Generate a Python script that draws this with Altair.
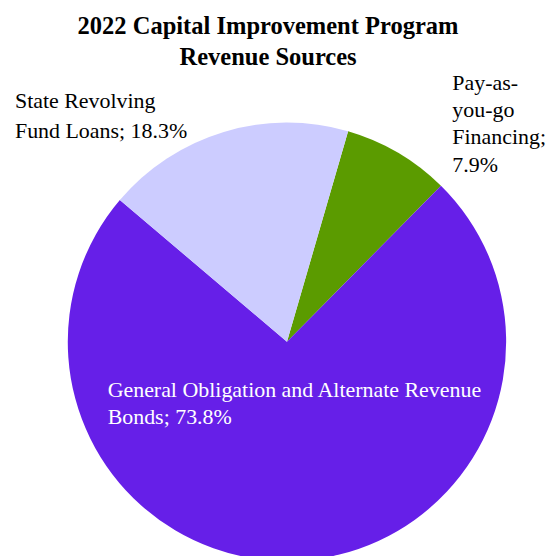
import altair as alt
import pandas as pd
import math

categories = ["Pay-as-you-go Financing", "General Obligation and Alternate Revenue Bonds", "State Revolving Fund Loans"]
shares = [7.9, 73.8, 18.3]
colors = ["#5B9B00", "#661FE8", "#CCCCFF"]
order = [0, 1, 2]

title_text = "2022 Capital Improvement Program\nRevenue Sources"
label_srf = "State Revolving\nFund Loans; 18.3%"
label_payg = "Pay-as-\nyou-go\nFinancing;\n7.9%"
label_go = "General Obligation and Alternate Revenue\nBonds; 73.8%"

df = pd.DataFrame({"category": categories, "share": shares, "order": order})

start = math.radians(16.2)

FONT = "Liberation Serif"

pie = alt.Chart(df).mark_arc(radius=220, stroke=None).encode(
    theta=alt.Theta("share:Q", stack=True, scale=alt.Scale(range=[start, start + 2 * math.pi])),
    order=alt.Order("order:Q"),
    color=alt.Color("category:N", scale=alt.Scale(domain=categories, range=colors), legend=None),
    x=alt.value(280),
    y=alt.value(334),
)

def txt(s, x, y, size, color="black", weight="normal", align="left", lh=28):
    return alt.Chart(pd.DataFrame({"t": [s]})).mark_text(
        font=FONT, fontSize=size, fontWeight=weight, color=color, align=align,
        baseline="alphabetic", lineBreak="\n", lineHeight=lh,
    ).encode(text="t:N", x=alt.value(x), y=alt.value(y))

layers = [
    pie,
    txt(title_text, 261, 25, 24.6, weight="bold", align="center", lh=31),
    txt(label_srf, 7, 99, 22, lh=30),
    txt(label_payg, 446, 81, 22, lh=27.5),
    txt(label_go, 100, 389, 22, color="white", lh=28),
]

chart = alt.layer(*layers).properties(
    width=541, height=548, padding=0,
    autosize=alt.AutoSizeParams(type="none"),
).configure_view(stroke=None)

chart.save("out.html", embed_options={"renderer": "svg", "actions": False})
